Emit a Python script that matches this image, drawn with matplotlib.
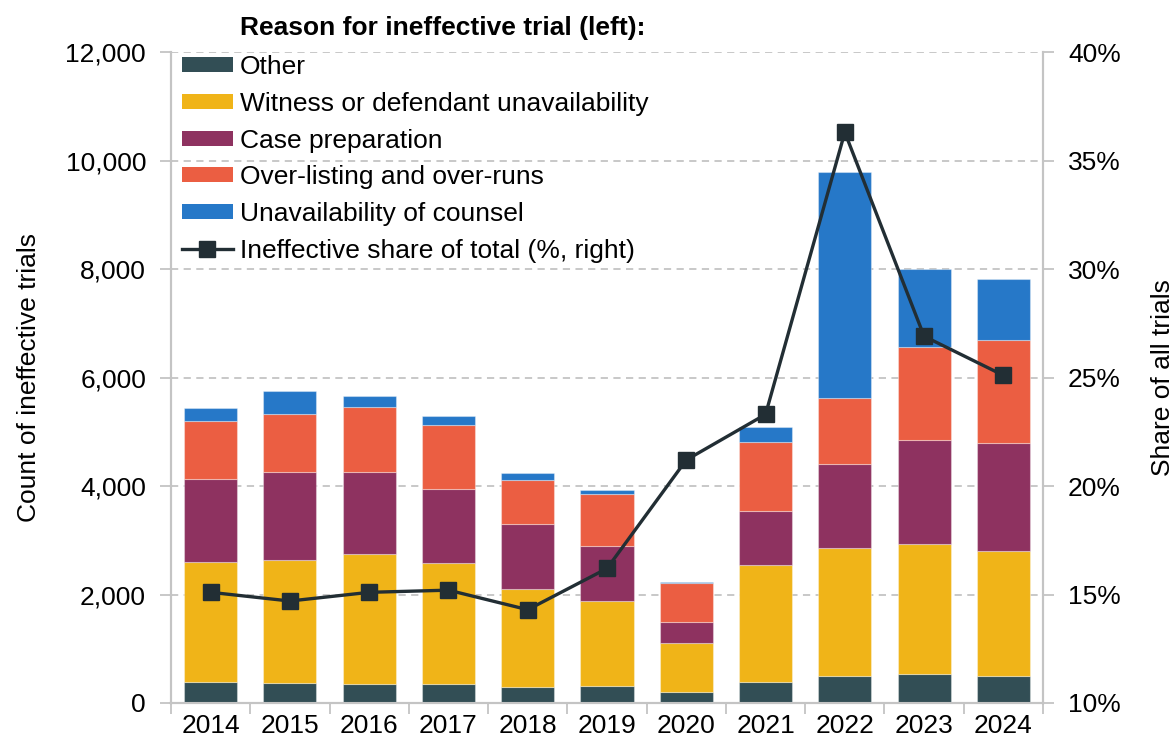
import numpy as np
import matplotlib
matplotlib.use("Agg")
import matplotlib.pyplot as plt
from matplotlib.lines import Line2D
from matplotlib.patches import Patch
from matplotlib.ticker import FuncFormatter, FixedLocator

plt.rcParams["font.family"] = ["Liberation Sans", "DejaVu Sans"]

years = ["2014", "2015", "2016", "2017", "2018", "2019", "2020", "2021", "2022", "2023", "2024"]
other = [386, 367, 343, 343, 294, 306, 196, 386, 497, 541, 497]
witness = [2204, 2265, 2400, 2240, 1803, 1569, 910, 2154, 2363, 2381, 2301]
case_prep = [1543, 1619, 1519, 1354, 1206, 1022, 388, 1003, 1539, 1931, 2000]
over_listing = [1071, 1071, 1195, 1188, 812, 948, 714, 1262, 1224, 1706, 1890]
counsel = [240, 430, 197, 160, 123, 80, 31, 277, 4172, 1433, 1132]
share = [15.1, 14.7, 15.1, 15.2, 14.3, 16.2, 21.2, 23.3, 36.3, 26.9, 25.1]

series = [
    ("Other", other, "#324e55"),
    ("Witness or defendant unavailability", witness, "#f0b418"),
    ("Case preparation", case_prep, "#8e3260"),
    ("Over-listing and over-runs", over_listing, "#eb5e42"),
    ("Unavailability of counsel", counsel, "#2678c8"),
]
LINE = "#222e34"
GREY = "#c4c4c4"
FS = 19

fig = plt.figure(figsize=(11.76, 7.47), dpi=100)
ax = fig.add_axes([171 / 1176, 44 / 747, 872 / 1176, 651 / 747])
ax2 = ax.twinx()

x = np.arange(len(years))
bottom = np.zeros(len(years))
handles = []
for name, vals, col in series:
    ax.bar(x, vals, 0.67, bottom=bottom, color=col, edgecolor=(1, 1, 1, 0.35),
           linewidth=0.8, zorder=3)
    bottom += np.array(vals)
    handles.append(Patch(facecolor=col, edgecolor="none", label=name))

ax2.plot(x, share, color=LINE, lw=2.4, marker="s", ms=12, zorder=4)
handles.append(Line2D([0], [0], color=LINE, lw=2.4, marker="s", ms=12,
                      label="Ineffective share of total (%, right)"))

ax.set_xlim(-0.5, len(years) - 0.5)
ax.set_ylim(0, 12000)
ax.set_yticks(np.arange(0, 12001, 2000))
ax.yaxis.set_major_formatter(FuncFormatter(lambda v, p: f"{int(v):,}"))
ax.grid(axis="y", color=GREY, ls=(0, (4, 3)), lw=1.3, zorder=0)
ax.set_axisbelow(True)

ax.set_xticks(x)
ax.set_xticklabels(years)
ax.xaxis.set_minor_locator(FixedLocator(np.arange(-0.5, len(years), 1)))
ax.tick_params(axis="x", which="major", length=0, labelsize=FS, pad=8)
ax.tick_params(axis="x", which="minor", length=8, width=1.3, color=GREY)
ax.tick_params(axis="y", length=8, width=1.3, color=GREY, labelsize=FS, pad=10)

ax2.set_ylim(10, 40)
ax2.set_yticks(np.arange(10, 41, 5))
ax2.yaxis.set_major_formatter(FuncFormatter(lambda v, p: f"{int(v)}%"))
ax2.tick_params(axis="y", length=8, width=1.3, color=GREY, labelsize=FS, pad=10)

for a in (ax, ax2):
    a.spines["top"].set_visible(False)
    for s in ("left", "right", "bottom"):
        a.spines[s].set_color(GREY)
        a.spines[s].set_linewidth(1.5)

ax.set_ylabel("Count of ineffective trials", fontsize=FS)
ax.yaxis.set_label_coords(-0.149, 0.5)
ax2.set_ylabel("Share of all trials", fontsize=FS)
ax2.yaxis.set_label_coords(1.124, 0.5)

fig.text(240 / 1176, 1 - 28 / 747, "Reason for ineffective trial (left):",
         fontsize=FS, fontweight="bold", va="center", ha="left")
ax2.legend(handles=handles, loc="upper left", bbox_to_anchor=(0.0126, 0.995),
           frameon=False, fontsize=FS, borderpad=0, borderaxespad=0,
           handlelength=1.93, handleheight=0.5, handletextpad=0.25,
           labelspacing=0.48)

fig.savefig("out.png", dpi=100)
